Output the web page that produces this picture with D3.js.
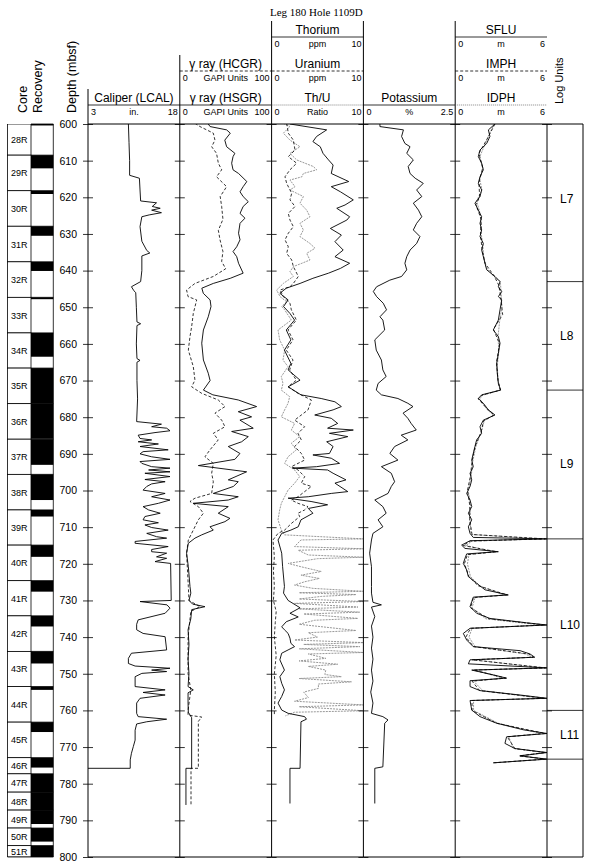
<!DOCTYPE html>
<html>
<head>
<meta charset="utf-8">
<script src="https://cdn.jsdelivr.net/npm/d3@7/dist/d3.min.js"></script>
<style>
body { margin: 0; background: #fff; }
svg text { font-family: "Liberation Sans", Arial, sans-serif; fill: #000; }
</style>
</head>
<body>
<div id="chart"></div>
<script>
// ---- data: [depth (mbsf), value] ----
var depthMajor = d3.range(600, 801, 10);
var depthMinor = d3.range(600, 801, 2);

var coreNames = ["28R","29R","30R","31R","32R","33R","34R","35R","36R","37R","38R","39R","40R","41R","42R","43R","44R","45R","46R","47R","48R","49R","50R","51R"];
var coreTops = [598.8,608.5,618.2,627.9,637.6,647.3,657.0,666.6,676.3,686.0,695.6,705.3,714.9,724.6,734.2,743.9,753.5,763.2,772.9,777.3,782.3,787.2,792.1,796.9];
var coreRecovered = [1.6,3.6,0.9,2.6,2.5,0.5,6.5,9.7,9.6,7.0,7.0,1.8,3.2,3.0,2.9,3.3,0.9,2.7,2.7,5.0,4.9,3.8,3.7,4.0];

var logUnitNames = ["L7","L8","L9","L10","L11"];
var logUnitTops = [598, 643.0, 672.6, 713.2, 760.0];
var logUnitBase = 773.3;

var caliperLcal = [[600,9.6],[605,9.7],[610,9.8],[614,9.8],[614.8,11.4],[618,11.5],[621,11.6],[621.5,14.2],[622.5,13.5],[623,14.8],[623.5,13.4],[624.2,15.0],[624.8,13.0],[625.3,11.8],[628,11.5],[632,11.8],[634.5,12.6],[635.2,13.1],[636,11.8],[640,11.8],[643,11.6],[644.4,10.1],[645.5,10.5],[646,10.8],[650,10.9],[654,11.0],[654.5,11.6],[655,11.0],[660,10.9],[664,11.0],[664.5,11.5],[665,11.0],[670,11.0],[675,11.1],
  [681.2,10.95],[681.9,15.0],[682.6,13.4],[683.0,15.85],[683.7,16.4],[684.2,13.95],[684.9,11.2],[685.8,11.5],[686.2,13.4],[686.7,11.2],[687.3,14.5],[688.0,11.5],[688.9,16.1],[689.4,12.0],[690.0,11.5],[690.8,13.4],[691.5,16.4],[692.1,11.5],[692.6,11.8],[693.5,13.4],[693.9,16.4],[694.4,12.9],[694.9,16.4],[695.3,12.3],[696.2,16.4],[697.0,12.3],[697.6,15.6],[698.2,13.4],[698.9,12.6],[699.9,12.0],[700.8,15.6],[701.7,13.4],[702.6,16.4],[703.5,14.5],[704.4,12.0],[705.3,12.9],[706.2,14.8],[707.1,12.3],[708.0,12.0],[708.8,14.5],[709.4,12.3],[710.1,13.4],[710.8,16.1],[711.7,12.6],[712.6,14.2],[713.0,15.85],[713.9,10.7],[714.4,10.7],[715.3,16.1],[716.1,13.4],[716.7,13.4],[717.1,15.85],[718.1,14.2],[718.5,15.85],[719.4,13.95],[719.9,16.5],
  [730.0,16.6],[730.3,11.5],[731.2,15.9],[732.1,16.4],[733.5,15.6],[735.3,11.2],[736.5,10.95],[738,10.95],[739.0,12.0],[739.9,15.6],[743.5,15.85],[744.4,10.1],[745.8,9.6],[747.2,9.6],[747.9,10.7],[748.5,16.4],[749.0,13.4],[749.4,15.85],[749.9,11.8],[750.8,10.7],[753.5,10.7],[754.4,15.6],[755.1,12.0],[755.8,15.6],[756.7,11.5],[758,10.95],[760.8,10.95],[761.7,11.2],[762.4,15.85],[763.1,12.6],[763.7,10.95],[765.4,10.7],[768.1,10.7],[769.9,10.4],[771.7,10.1],[773.5,9.9],[775.8,9.9],[775.8,3]];

var gammaHsgr = [[600,31],[600.7,33],[601.6,51],[602.5,55],[604.4,49],[606.2,51],[608,60],[608.9,58],[610.7,56.5],[612.5,58],[613.5,64],[615.7,73],[617.1,69],[618.5,65.6],[619.8,69],[621.2,74.6],[622.5,69],[624.4,65.6],[625.7,71],[627.1,65.6],[629.8,64],[631.6,65.6],[633.5,62],[634.8,58],[636.2,62],[638,64],[640.7,69],[642.1,55],[643.5,36.5],[644.8,24],[646.2,25.6],[648,33],[649.8,34],[652.6,31],
  [656.2,25.7],[659.8,23.9],[664.4,25.7],[668,31],[670,33],[672.6,25.7],[673.9,36],[675.3,63.7],[677.1,83.7],[678.5,63.7],[679.9,78.2],[680.8,65.5],[683.0,80],[683.9,56.5],[685.3,74.6],[686.7,67.4],[688.0,52.8],[689.9,65.5],[691.5,60],[693.2,20.2],[694.9,72.8],[697.1,52.8],[697.6,63.7],[698.9,58.3],[700.8,36.5],[701.7,63.7],[702.6,52.8],[703.5,14.7],[704.4,52.8],[706.2,41.9],[707.6,54.6],[708.5,49.2],[709.9,32.9],[710.8,36.5],[712.1,23.9],[713.0,16.5],[714.4,9.3],[717.1,7.4],[720.8,9.3],[726.2,11.1],
  [728,12],[730,10],[731,14],[731.7,27.4],[732.5,13],[735,12],[738,9],[742,10],[746,9],[750,10],[753.5,9],[754.4,14.7],[755.2,9],[758,9],[760.5,9.3],[762,12.9],[775.8,12.9],[775.8,6.7],[785.8,6.7]];

var gammaHcgr = [[599.8,16.5],[600.7,22],[602.5,36.5],[604.4,38.3],[606.2,34.7],[608,40],[610.7,42],[612.5,45.6],[614.4,40],[617.1,51],[619.8,44],[622.5,45.6],[626,47],[629,42],[631.6,43.8],[634.8,47],[637.5,45.6],[639.5,50],[641.6,36.5],[643.5,16.5],[645.3,7.4],[647.1,9],[648,18.4],[651.7,14.7],[655.3,12.9],[658,11.1],[661.7,9.3],[666.2,14.7],[669.9,16.5],[671.7,12.9],[673.5,23.9],[675.3,41.9],[676.2,45.6],[677.1,49.2],[678.9,38.3],[680.8,45.6],[682.6,49.2],[684.4,36.5],[686.2,41.9],[688.9,32.9],[690.8,27.4],[692.6,36.5],[695.3,34.7],[697.6,36.5],[700.8,34.7],[702.1,16.5],[703.0,11.1],[704.4,20.2],[706.2,25.7],[708.0,20.2],[710.8,14.7],[713.5,9.3],[717.1,7.4],[726.2,9.3],
  [730,10],[731.7,22],[733,12],[740,9],[750,9],[754.4,12],[760,9],[761.3,9],[761.8,23.9],[763,20.2],[775.8,20.2],[775.8,12.2],[785.8,12.2]];

var thoriumPpm = [[600,2.0],[601.6,6.0],[603.4,4.9],[604.8,4.5],[606.2,5.3],[608,5.6],[609.8,6.2],[611.2,6.7],[613.5,6.5],[615.7,8.4],[617.1,6.5],[618.5,7.5],[620.7,8.9],[622.1,8.0],[623,7.1],[625.3,8.5],[626.2,8.2],[628.5,6.4],[630.3,7.6],[632.1,6.9],[634.4,7.8],[636.2,6.9],[638,8.5],[639.4,7.5],[640.7,6.2],[642.1,4.5],[643.5,3.1],[644.8,1.6],[646.2,0.9],[648,1.8],[649.8,1.3],[651.7,2.0],
  [653.5,2.5],[656.2,1.6],[658.9,2.1],[661.7,1.4],[665.3,2.1],[667.1,1.8],[669.9,3.1],[671.7,1.8],[673.9,3.2],[674.9,5.4],[675.8,6.9],[677.1,7.6],[678,6.7],[679.4,4.7],[680.3,6.5],[681.7,7.2],[683,6.1],[683.5,8.9],[684.4,6.3],[685.3,8.3],[686.7,6.0],[688,6.7],[689.9,6.3],[690.3,4.5],[691.2,6.5],[692.6,7.4],[693.5,4.9],[693.9,2.3],[694.4,6.1],[695.3,6.7],[697.1,8.1],[698,6.9],[700.3,8.3],[700.8,6.5],[701.7,4.0],[702.1,1.8],[703,4.3],[703.9,6.1],[704.9,4.0],[706.2,4.5],[708,3.2],[709.9,2.9],[710.8,2.1],[711.7,1.1],[713.5,0.7],[717.1,1.1],[720.8,1.2],[726.2,1.4],
  [728,1.3],[730,1.8],[732,3.1],[733.5,2.0],[734.5,2.9],[735.8,1.6],[737.2,1.1],[738,1.4],[739,1.8],[740.3,2.0],[741.7,2.1],[742.6,2.5],[743.5,1.8],[744.4,1.1],[746.2,0.9],[749,1.4],[750.8,0.9],[752.6,1.1],[754.4,1.4],[756.2,1.1],[758,0.7],[759.9,1.1],[760.8,1.8],[761.7,3.6],[762.4,3.8],[763.1,3.2],[775.8,3.1],[775.8,2.0],[785.4,2.0]];

var uraniumPpm = [[599.8,1.64],[602.5,1.82],[604.4,2.37],[607.1,2.55],[608.9,1.82],[610.7,2.73],[612.5,2.0],[614.4,1.46],[616.2,1.64],[618.9,2.19],[620.7,2.0],[622.5,2.55],[624.4,1.82],[626.2,2.0],[628.0,2.37],[629.8,1.82],[631.6,1.46],[633.5,1.82],[635.3,1.64],[637.1,2.19],[638.9,2.37],[640.7,2.73],[641.6,2.91],[643.5,2.37],[644.4,2.0],[645.3,0.92],[647.1,1.28],[648.9,2.0],[650.7,2.15],[653.5,2.7],[656.2,1.79],[658.9,2.33],[661.7,1.6],[664.4,2.33],[667.1,1.97],[669.9,2.7],[671.7,1.79],[673.5,2.88],[675.3,4.33],[678.0,3.97],[679.4,3.24],[680.8,2.51],[682.6,3.6],[684.4,2.88],[686.2,3.24],[688.0,2.51],[689.9,3.24],[691.7,3.6],[693.5,2.15],[694.4,2.88],[696.2,3.6],[698.0,3.24],[698.9,4.33],[700.3,3.6],[701.7,2.88],[702.6,2.15],[703.5,2.88],[704.4,3.97],[705.3,3.6],[706.2,2.88],[707.1,3.06],[709.0,2.15],[710.8,1.42],[711.7,0.7],[713.5,0.15],[718,0.3],[722,0.2],[726,0.3],[730,0.2],[733,0.5],[736,0.4],[740,0.3],[745,0.5],[750,0.3],[755,0.4],[760,0.3],[761.5,0.3]];

var thuRatio = [[599.8,1.28],[600.7,2.0],[602.5,1.28],[604.4,2.0],[606.2,3.09],[608.0,2.0],[609.8,2.73],[611.6,4.55],[612.5,4.91],[613.5,3.46],[614.4,3.3],[615.3,2.0],[617.1,2.55],[618.0,2.0],[619.8,3.46],[621.6,3.09],[623.5,3.82],[625.3,4.18],[627.1,3.09],[628.9,3.46],[630.7,3.09],[632.6,4.18],[633.9,4.73],[635.3,3.82],[637.1,4.18],[638.0,3.3],[638.9,2.37],[640.3,2.0],[641.6,2.37],[643.5,1.28],[645.3,0.55],[647.1,0.92],[648.5,1.64],[649.8,1.1],[650.7,1.42],[653.5,2.15],[656.2,0.7],[658.9,0.88],[661.7,1.42],[664.4,1.24],[666.2,1.79],[668.9,1.06],[670.8,1.24],[672.6,1.06],[674.4,1.97],[676.2,1.79],[678.0,1.42],[679.9,1.06],[681.7,2.51],[683.5,2.15],[685.3,3.06],[687.1,2.15],[688.9,2.7],[690.8,1.79],[692.6,1.42],[694.4,2.51],[696.2,3.06],[698.0,2.51],[699.9,1.79],[701.7,1.42],[703.5,1.06],[705.3,0.88],[708.0,0.7],[710.8,1.06],[712.1,1.4],
  [713.2,10],[713.5,3.2],[715.3,2.5],[715.9,10],[716.3,2.9],[717.6,4.0],[718.2,10],[718.6,5.0],[719.9,1.8],[720.8,3.2],[722.1,5.4],[723.1,3.2],[724.0,5.2],[724.9,3.6],[725.8,2.5],[726.7,4.5],[727.5,10],[727.9,3.0],[728.4,9.2],[728.9,5.4],[729.6,3.0],[730.3,10],[730.8,2.5],[731.8,9.4],[732.3,3.0],[733.2,9.6],[733.7,3.5],[734.9,9.4],[735.4,4.7],[736.5,3.0],[738.2,9.2],[738.8,4.0],[740,5.0],[740.8,2.5],[741.5,10],[742,3.5],[742.6,9.6],[743.2,3.0],[744.2,10],[744.6,4.0],[745.8,5.9],[746.5,3.0],[747.4,7.2],[748,4.0],[749,5.9],[750.2,5.8],[750.8,7.6],[751.3,3.0],[752.2,8.7],[752.8,5.1],[754,5.1],[755,3.5],[756.5,4.0],[757.5,2.5],[758.5,10],[759,3.0],[760.1,10],[760.5,2.5],[761.5,1.5]];

var potassiumPct = [[600,0.45],[600.7,0.45],[601.6,1.09],[603.4,1.04],[605.3,1.13],[606.2,1.27],[608,1.18],[609.8,1.36],[611.6,1.22],[613.5,1.27],[614.8,1.41],[616.2,1.63],[618,1.45],[619.8,1.59],[621.6,1.36],[623.5,1.5],[625.3,1.59],[627.1,1.45],[628.9,1.36],[630.7,1.54],[632.6,1.45],[634.4,1.27],[636.2,1.18],[638,1.13],[639.8,1.18],[641.6,1.04],[642.6,0.72],[644.4,0.36],[645.7,0.27],[647.1,0.36],[648.9,0.54],[650.7,0.63],[652.6,0.45],
  [653.5,0.53],[656.2,0.58],[658.9,0.31],[661.7,0.35],[664.4,0.49],[667.1,0.53],[668.9,0.62],[670.8,0.4],[672.6,0.35],[673.9,0.49],[674.9,0.94],[676.2,1.21],[677.1,1.35],[678.9,1.08],[680.3,1.21],[681.7,1.30],[683.5,1.44],[684.9,1.03],[686.2,1.21],[688,0.85],[689.9,0.72],[691.7,0.94],[693.5,0.49],[695.3,0.76],[697.6,0.85],[698.9,0.76],[700.8,0.67],[702.6,0.31],[704.4,0.53],[706.2,0.62],[708,0.4],[709.9,0.53],[711.7,0.26],[713.5,0.22],[717.1,0.17],[720.8,0.22],[726.2,0.22],
  [728,0.22],[730.5,0.26],[731.2,0.49],[731.8,0.22],[734.4,0.31],[737,0.22],[740,0.26],[743,0.22],[746,0.26],[749,0.22],[752,0.26],[755,0.2],[758,0.26],[760.8,0.22],[761.7,0.53],[762.6,0.67],[763.5,0.58],[775.4,0.53],[775.8,0.31],[785.4,0.31]];

var sfluLog = [[600,2.6],[601.6,2.17],[603.4,2.27],[605.3,2.06],[607.1,1.62],[608.9,1.51],[610.7,1.73],[612.5,1.84],[614.4,1.62],[616.2,1.51],[618,1.73],[619.8,1.62],[621.6,1.29],[623.5,1.51],[625.3,1.73],[627.1,1.62],[628.9,1.73],[630.7,1.62],[632.6,1.84],[634.4,1.73],[636.2,1.84],[638,1.95],[639.8,2.06],[641.6,2.6],[643,2.93],[644.4,2.82],[645.7,3.04],[647.1,2.82],[648.0,3.04],[650.7,2.93],[653.5,2.82],[656.2,2.49],[658.0,2.82],[659.8,2.93],[662.6,2.82],[665.3,2.71],[668.0,2.75],[670.8,2.82],[672.6,2.97],[673.9,1.73],[674.9,1.51],[676.2,1.84],[678.0,2.17],[679.4,2.6],[680.8,1.84],[682.6,1.62],[684.4,1.73],[686.2,1.4],[688.0,1.29],[689.9,1.18],[691.7,1.08],[693.5,1.18],[695.3,0.97],[697.1,1.08],[698.9,0.97],[700.8,0.75],[702.6,0.97],[704.4,1.08],[706.2,0.86],[708.0,1.08],[709.9,0.86],[711.7,0.97],[712.8,1.18],
  [713.2,6.0],[713.7,0.97],[714.9,0.42],[715.8,0.64],[716.7,2.82],[717.3,0.75],[718.5,0.64],[719.9,0.53],[721.7,0.75],[723.5,0.86],[725.3,1.4],[727.1,1.95],[728.5,3.47],[729.1,1.18],[730.3,1.08],[731.7,0.97],[733.5,1.4],[734.9,2.27],[736.1,4.67],[736.7,6.0],[737.6,0.97],[739.0,0.53],[740.8,0.75],[742.6,1.18],[743.7,4.24],[744.6,4.89],[745.5,5.2],[746.2,0.97],[747.3,0.86],[748.4,6.0],[749.0,1.08],[750.3,2.49],[751.2,3.36],[751.9,0.97],[753.5,0.97],[754.6,1.62],[755.8,4.24],[756.7,6.0],[757.3,0.97],[759.9,1.08],[761.7,1.62],[763.5,2.71],[765.3,4.46],[766.3,6.0],[767.2,3.36],[769.0,3.25],[770.4,3.9],[771.5,6.0],[772.4,4.24],[773.3,6.0],[774.3,2.49]];

var imphLog = [[600,2.6],[604,2.1],[608,1.55],[612,1.8],[616,1.55],[620,1.6],[622,1.35],[626,1.7],[630,1.65],[634,1.75],[638,1.95],[641.5,2.55],[644,2.85],[648,3.0],[652,3.1],[656,2.5],[660,2.9],[665,2.7],[670,2.8],[672.6,2.95],[674,1.75],[675,1.5],[678,2.15],[679.4,2.55],[681,1.85],[684,1.7],[688,1.3],[692,1.1],[696,1.0],[700,0.8],[704,0.95],[708,0.95],[712,1.1],[713.2,5.9],[713.8,1.0],[715,0.5],[716.7,2.7],[717.5,0.8],[720,0.6],[723.5,0.9],[726,1.5],[728.5,3.4],[729.2,1.2],[732,1.0],[735,2.2],[736.1,4.6],[736.7,5.9],[737.6,1.0],[740,0.7],[742.6,1.2],[744.6,4.8],[745.5,5.1],[746.2,1.1],[748.4,5.9],[749,1.2],[751.2,3.3],[752,1.1],[754.6,1.6],[756.7,5.9],[757.3,1.1],[760,1.1],[763.5,2.7],[766.3,5.9],[767.2,3.4],[770.4,3.9],[771.5,5.9],[772.4,4.2],[773.3,5.9],[774.3,2.5]];

var idphLog = [[600,2.55],[603,2.2],[606,1.9],[609,1.6],[612,1.8],[615,1.6],[618,1.75],[621,1.4],[624,1.6],[627,1.7],[630,1.7],[633,1.8],[636,1.85],[639,2.0],[641.5,2.5],[643,2.95],[646,3.0],[650,3.05],[654,2.9],[658,2.8],[662,2.85],[666,2.75],[670,2.8],[672.6,2.95],[674,1.8],[675,1.6],[678,2.1],[679.4,2.5],[681,1.9],[684,1.7],[688,1.35],[692,1.15],[696,1.05],[700,0.85],[704,1.0],[708,0.95],[712,1.05],[713.2,5.6],[713.8,1.1],[715,0.7],[716.7,2.5],[717.5,0.9],[720,0.8],[723.5,1.0],[726,1.6],[728.5,3.2],[729.2,1.3],[732,1.1],[735,2.0],[736.1,4.3],[736.7,5.7],[737.6,1.1],[740,0.9],[742.6,1.3],[744.6,4.6],[745.5,5.0],[746.2,1.2],[748.4,5.7],[749,1.3],[751.2,3.1],[752,1.2],[754.6,1.8],[756.7,5.6],[757.3,1.2],[760,1.2],[763.5,2.8],[766.3,5.6],[767.2,3.5],[770.4,3.8],[771.5,5.8],[772.4,4.2],[773.3,5.8],[774.3,2.6]];

// ---- layout ----
var W = 590, H = 866;
var plotTop = 124, plotBottom = 857;
var trackEdges = [88, 179.8, 271.6, 363.4, 455.2, 547];
var rightEdge = 583;
var rowTops = [21, 55, 89];

var svg = d3.select("#chart").append("svg")
  .attr("width", W).attr("height", H);

var y = d3.scaleLinear().domain([600, 800]).range([plotTop, plotBottom]);

var tracks = [
  {domain: [3, 18]},
  {domain: [0, 100]},
  {domain: [0, 10]},
  {domain: [0, 2.5]},
  {domain: [0, 6]}
];
tracks.forEach(function(t, i) {
  t.x = d3.scaleLinear().domain(t.domain).range([trackEdges[i], trackEdges[i + 1]]);
  var cid = "clip" + i;
  svg.append("clipPath").attr("id", cid).append("rect")
    .attr("x", trackEdges[i]).attr("y", plotTop)
    .attr("width", trackEdges[i + 1] - trackEdges[i]).attr("height", plotBottom - plotTop);
  t.g = svg.append("g").attr("clip-path", "url(#" + cid + ")");
});

function drawCurve(ti, data, style) {
  var t = tracks[ti];
  var line = d3.line()
    .x(function(d) { return t.x(d[1]); })
    .y(function(d) { return y(d[0]); });
  var p = t.g.append("path").datum(data)
    .attr("d", line)
    .attr("fill", "none")
    .attr("stroke-linejoin", "round");
  if (style == "solid") p.attr("stroke", "#000").attr("stroke-width", 0.9);
  if (style == "dashed") p.attr("stroke", "#000").attr("stroke-width", 0.8).attr("stroke-dasharray", "3,2");
  if (style == "dotted") p.attr("stroke", "#8c8c8c").attr("stroke-width", 0.9).attr("stroke-dasharray", "2,1");
}

// frame
svg.append("line").attr("x1", trackEdges[0]).attr("x2", rightEdge)
  .attr("y1", plotTop).attr("y2", plotTop).attr("stroke", "#000");
svg.append("line").attr("x1", trackEdges[0]).attr("x2", rightEdge)
  .attr("y1", plotBottom).attr("y2", plotBottom).attr("stroke", "#000");
svg.append("line").attr("x1", rightEdge).attr("x2", rightEdge)
  .attr("y1", plotTop).attr("y2", plotBottom).attr("stroke", "#000");

// header blocks: vertical bars start at the highest row in each track
var headerTopRow = [2, 1, 0, 2, 0];
trackEdges.forEach(function(xe, i) {
  var r = 2;
  if (i < 5) r = Math.min(r, headerTopRow[i]);
  if (i > 0) r = Math.min(r, headerTopRow[i - 1]);
  var y0 = i == 5 ? plotTop : rowTops[r];
  svg.append("line").attr("x1", xe).attr("x2", xe)
    .attr("y1", y0).attr("y2", plotBottom).attr("stroke", "#000");
});

function header(ti, row, label, style, lo, unit, hi) {
  var x0 = trackEdges[ti], x1 = trackEdges[ti + 1], t0 = rowTops[row];
  var g = svg.append("g");
  g.append("text").attr("x", (x0 + x1) / 2).attr("y", t0 + 13)
    .attr("text-anchor", "middle").style("font-size", "12px").text(label);
  var u = g.append("line").attr("x1", x0).attr("x2", x1)
    .attr("y1", t0 + 16).attr("y2", t0 + 16).attr("stroke", "#000").attr("stroke-width", 0.8);
  if (style == "dashed") u.attr("stroke-dasharray", "3,2");
  if (style == "dotted") u.attr("stroke", "#666").attr("stroke-dasharray", "1,1");
  g.append("text").attr("x", x0 + 3).attr("y", t0 + 26).style("font-size", "9px").text(lo);
  g.append("text").attr("x", (x0 + x1) / 2).attr("y", t0 + 26)
    .attr("text-anchor", "middle").style("font-size", "9px").text(unit);
  g.append("text").attr("x", x1 - 2).attr("y", t0 + 26)
    .attr("text-anchor", "end").style("font-size", "9px").text(hi);
}

header(0, 2, "Caliper (LCAL)", "solid", "3", "in.", "18");
header(1, 1, "\u03b3 ray (HCGR)", "dashed", "0", "GAPI Units", "100");
header(1, 2, "\u03b3 ray (HSGR)", "solid", "0", "GAPI Units", "100");
header(2, 0, "Thorium", "solid", "0", "ppm", "10");
header(2, 1, "Uranium", "dashed", "0", "ppm", "10");
header(2, 2, "Th/U", "dotted", "0", "Ratio", "10");
header(3, 2, "Potassium", "solid", "0", "%", "2.5");
header(4, 0, "SFLU", "solid", "0", "m", "6");
header(4, 1, "IMPH", "dashed", "0", "m", "6");
header(4, 2, "IDPH", "dotted", "0", "m", "6");

svg.append("text").attr("x", 270).attr("y", 16)
  .style("font-family", "'Liberation Serif', 'Times New Roman', serif")
  .style("font-size", "11px").text("Leg 180 Hole 1109D");

function vlabel(x, yb, txt, size) {
  svg.append("text").attr("transform", "translate(" + x + "," + yb + ") rotate(-90)")
    .style("font-size", size).text(txt);
}
vlabel(27, 113, "Core", "12.5px");
vlabel(42, 113, "Recovery", "12.5px");
vlabel(76, 113, "Depth (mbsf)", "12.5px");
vlabel(563, 104, "Log Units", "11px");

// depth ticks on every track edge
trackEdges.forEach(function(xe, i) {
  var gl = svg.append("g").attr("transform", "translate(" + xe + ",0)");
  gl.call(d3.axisLeft(y).tickValues(depthMinor).tickSize(2.5).tickFormat(""));
  gl.call(d3.axisLeft(y).tickValues(depthMajor).tickSize(5).tickFormat(""));
  var gr = svg.append("g").attr("transform", "translate(" + xe + ",0)");
  gr.call(d3.axisRight(y).tickValues(depthMinor).tickSize(2.5).tickFormat(""));
  gr.call(d3.axisRight(y).tickValues(depthMajor).tickSize(5).tickFormat(""));
});
svg.selectAll(".domain").remove();
svg.selectAll(".tick line").attr("stroke-width", 0.8);

// depth labels
var gd = svg.append("g").attr("transform", "translate(" + trackEdges[0] + ",0)")
  .call(d3.axisLeft(y).tickValues(depthMajor).tickSize(0).tickPadding(11).tickFormat(d3.format("d")));
gd.select(".domain").remove();
gd.selectAll("text").style("font-size", "10.5px").style("font-family", "'Liberation Sans', Arial, sans-serif");

// cores & recovery
var coreX0 = 7.5, coreX1 = 31, recX1 = 53.3;
svg.append("clipPath").attr("id", "clipCore").append("rect")
  .attr("x", 0).attr("y", plotTop).attr("width", 60).attr("height", plotBottom - plotTop);
var cg = svg.append("g").attr("clip-path", "url(#clipCore)");
coreNames.forEach(function(name, i) {
  var t0 = coreTops[i];
  var t1 = i < coreNames.length - 1 ? coreTops[i + 1] : 805;
  var yt = Math.max(y(t0), plotTop), yb = Math.min(y(t1), plotBottom);
  cg.append("rect").attr("x", coreX0).attr("y", yt)
    .attr("width", coreX1 - coreX0).attr("height", yb - yt)
    .attr("fill", "#fff").attr("stroke", "#000").attr("stroke-width", 0.8);
  cg.append("rect").attr("x", coreX1).attr("y", y(t0))
    .attr("width", recX1 - coreX1).attr("height", y(t0 + coreRecovered[i]) - y(t0))
    .attr("fill", "#000");
  cg.append("line").attr("x1", coreX1).attr("x2", recX1)
    .attr("y1", y(t0)).attr("y2", y(t0)).attr("stroke", "#000").attr("stroke-width", 0.8);
  svg.append("text").attr("x", (coreX0 + coreX1) / 2).attr("y", (yt + yb) / 2 + 3.5)
    .attr("text-anchor", "middle").style("font-size", "9px").text(name);
});
svg.append("line").attr("x1", recX1).attr("x2", recX1).attr("y1", plotTop).attr("y2", plotBottom)
  .attr("stroke", "#000").attr("stroke-width", 0.8);
svg.append("line").attr("x1", coreX0).attr("x2", recX1).attr("y1", plotBottom).attr("y2", plotBottom)
  .attr("stroke", "#000").attr("stroke-width", 0.8);
svg.append("line").attr("x1", coreX1).attr("x2", recX1).attr("y1", plotTop).attr("y2", plotTop)
  .attr("stroke", "#000").attr("stroke-width", 0.8);

// log units
logUnitNames.forEach(function(name, i) {
  var t0 = logUnitTops[i];
  var t1 = i < logUnitNames.length - 1 ? logUnitTops[i + 1] : logUnitBase;
  svg.append("line").attr("x1", trackEdges[5]).attr("x2", rightEdge)
    .attr("y1", y(t1)).attr("y2", y(t1)).attr("stroke", "#000").attr("stroke-width", 0.8);
  svg.append("text").attr("x", 560).attr("y", y((t0 + t1) / 2) + 4)
    .style("font-size", "12px").text(name);
});

// curves
drawCurve(0, caliperLcal, "solid");
drawCurve(1, gammaHcgr, "dashed");
drawCurve(1, gammaHsgr, "solid");
drawCurve(2, thuRatio, "dotted");
drawCurve(2, uraniumPpm, "dashed");
drawCurve(2, thoriumPpm, "solid");
drawCurve(3, potassiumPct, "solid");
drawCurve(4, idphLog, "dotted");
drawCurve(4, imphLog, "dashed");
drawCurve(4, sfluLog, "solid");
</script>
</body>
</html>
